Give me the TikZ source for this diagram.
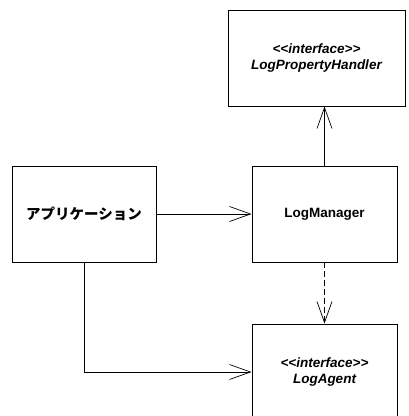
\documentclass[tikz,border=0pt]{standalone}
\usepackage{fontspec}
\setmainfont{Liberation Sans}
\newfontfamily\jpfont{Noto Sans CJK JP}
\usetikzlibrary{arrows.meta}
\newcommand{\stereo}[1]{<{}<#1>{}>}
\tikzset{
  cls/.style={draw, line width=0.9pt, rectangle, minimum width=145pt, minimum height=96pt, inner sep=0pt, align=center, font=\fontsize{13.5}{15.5}\selectfont\bfseries},
  conn/.style={line width=0.7pt, -{Straight Barb[length=21pt,width=15pt,line width=0.7pt]}},
}
\begin{document}
\begin{tikzpicture}[x=1pt,y=-1pt]
\useasboundingbox (0,0) rectangle (409,416);
\node[cls, minimum width=177pt] (lph) at (316.5,58) {\itshape \stereo{interface}\\ \itshape LogPropertyHandler};
\node[cls, minimum width=144pt, font=\fontsize{14.5}{16}\selectfont\jpfont\bfseries] (app) at (84,214) {アプリケーション};
\node[cls] (mgr) at (324.5,214) {LogManager};
\node[cls] (agent) at (324.5,372) {\itshape \stereo{interface}\\ \itshape LogAgent};
\draw[conn] (app.east) -- (mgr.west);
\draw[conn] (mgr.north) -- (mgr.north |- lph.south);
\draw[conn, dashed, dash pattern=on 6pt off 3pt] (mgr.south) -- (agent.north);
\draw[conn] (app.south) |- (agent.west);
\end{tikzpicture}
\end{document}
